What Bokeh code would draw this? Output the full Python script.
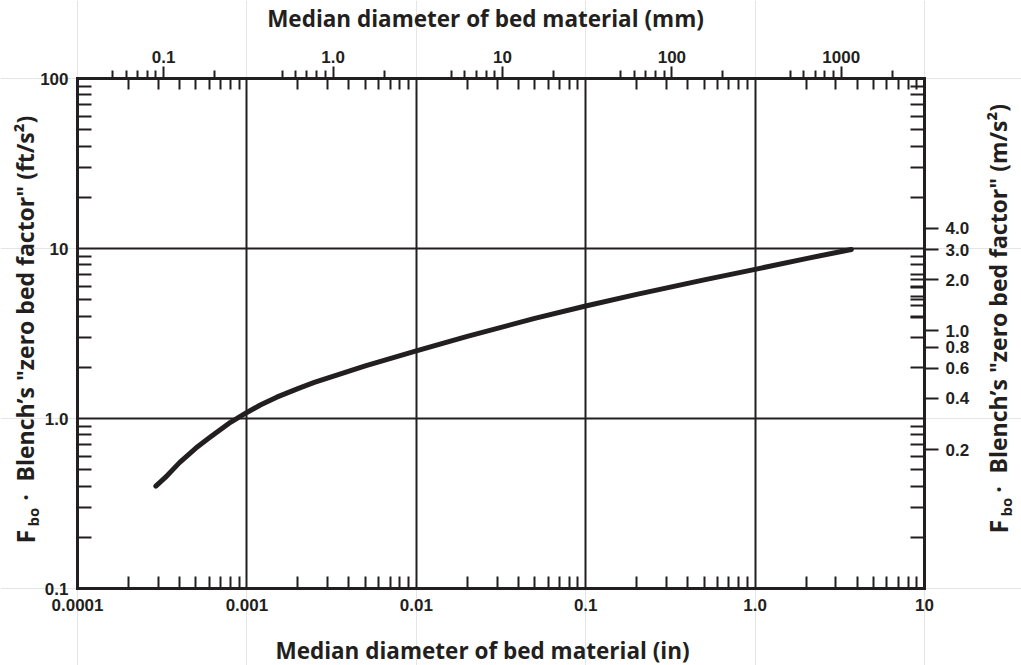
import numpy as np
from bokeh.plotting import figure
from bokeh.models import LogAxis, FixedTicker, Range1d, LogScale, Label
from bokeh.embed import file_html
from bokeh.resources import INLINE

# ---- data ----
diam_in = [0.00029, 0.00033, 0.0004, 0.0005, 0.0006, 0.0008, 0.001, 0.0012,
           0.0015, 0.002, 0.0025, 0.0035, 0.005, 0.01, 0.02, 0.05, 0.1, 0.2,
           0.5, 1.0, 2.0, 3.7]
fbo_ft = [0.40, 0.45, 0.55, 0.67, 0.77, 0.95, 1.085, 1.20,
          1.335, 1.50, 1.63, 1.82, 2.04, 2.50, 3.04, 3.88, 4.59, 5.37,
          6.54, 7.54, 8.72, 9.86]

in_ticks = [0.0001, 0.001, 0.01, 0.1, 1.0, 10.0]
in_labels = ["0.0001", "0.001", "0.01", "0.1", "1.0", "10"]
ft_ticks = [0.1, 1.0, 10.0, 100.0]
ft_labels = ["0.1", "1.0", "10", "100"]
mm_ticks = [0.1, 1.0, 10.0, 100.0, 1000.0]
mm_labels = ["0.1", "1.0", "10", "100", "1000"]
ms_ticks = [0.2, 0.4, 0.6, 0.8, 1.0, 2.0, 3.0, 4.0]
ms_labels = ["0.2", "0.4", "0.6", "0.8", "1.0", "2.0", "3.0", "4.0"]
ms_inner_ticks = [1.2, 1.4, 1.6, 1.8, 2.0]

IN_LO, IN_HI = 1e-4, 10.0        # x extent of the chart (inches)
FT_LO, FT_HI = 0.1, 100.0        # y extent of the chart (ft/s2)
MM_PER_IN = 310.0                # scale factor of the top axis as drawn
MS_PER_FT = 0.3048

INK = "#231f20"
TICK_FONT = "Liberation Sans"
TITLE_FONT = "Open Sans"

# ---- geometry (pixels) ----
W, H = 1021, 665
PL, PR, PT, PB = 77, 924, 78, 588

dx = (np.log10(IN_HI) - np.log10(IN_LO)) / (PR - PL)
dy = (np.log10(FT_HI) - np.log10(FT_LO)) / (PB - PT)
x0 = 10 ** (np.log10(IN_LO) - PL * dx)
x1 = 10 ** (np.log10(IN_HI) + (W - PR) * dx)
y0 = 10 ** (np.log10(FT_LO) - (H - PB) * dy)
y1 = 10 ** (np.log10(FT_HI) + PT * dy)


def minors(mults, lo, hi):
    out = []
    for k in range(-6, 5):
        for m in mults:
            v = m * 10.0 ** k
            if lo < v < hi:
                out.append(v)
    return out


in_minor = minors(range(2, 10), IN_LO, IN_HI)
ft_minor = minors(range(2, 10), FT_LO, FT_HI)
mm_minor = minors([2, 5, 6, 7, 8, 9], IN_LO * MM_PER_IN, IN_HI * MM_PER_IN)

p = figure(width=W, height=H, min_border=0,
           x_axis_type="log", y_axis_type="log",
           x_range=Range1d(x0, x1), y_range=Range1d(y0, y1),
           x_axis_location=None, y_axis_location=None,
           output_backend="svg", toolbar_location=None,
           background_fill_color="white", border_fill_color="white")
p.x_scale = LogScale()
p.y_scale = LogScale()
p.outline_line_color = None
p.extra_x_ranges = {"mm": Range1d(x0 * MM_PER_IN, x1 * MM_PER_IN)}
p.extra_x_scales = {"mm": LogScale()}
p.extra_y_ranges = {"ms": Range1d(y0 * MS_PER_FT, y1 * MS_PER_FT)}
p.extra_y_scales = {"ms": LogScale()}


def style(ax, line=True):
    ax.axis_line_color = INK if line else None
    ax.axis_line_width = 3
    ax.axis_line_cap = "square"
    ax.major_tick_line_color = INK
    ax.minor_tick_line_color = INK
    ax.major_tick_line_width = 2
    ax.minor_tick_line_width = 2
    ax.major_tick_in = 0
    ax.major_tick_out = 0
    ax.minor_tick_in = 0
    ax.minor_tick_out = 0
    ax.major_label_text_font = TICK_FONT
    ax.major_label_text_font_style = "bold"
    ax.major_label_text_font_size = "17px"
    ax.major_label_text_color = INK


# bottom axis (inches) - its long major ticks form the vertical grid
bx = LogAxis(fixed_location=FT_LO, bounds=(IN_LO, IN_HI),
             ticker=FixedTicker(ticks=in_ticks, minor_ticks=in_minor),
             major_label_overrides=dict(zip(in_ticks, in_labels)))
style(bx)
bx.major_tick_in = PB - PT
bx.minor_tick_in = 12
bx.major_label_standoff = 10
p.add_layout(bx, "below")

# left axis (ft/s2) - its long major ticks form the horizontal grid
ly = LogAxis(fixed_location=IN_LO, bounds=(FT_LO, FT_HI),
             ticker=FixedTicker(ticks=ft_ticks, minor_ticks=ft_minor),
             major_label_overrides=dict(zip(ft_ticks, ft_labels)))
style(ly)
ly.major_tick_in = PR - PL
ly.minor_tick_in = 14
ly.major_label_standoff = 9
p.add_layout(ly, "left")

# top: inch minor ticks pointing in
tx_in = LogAxis(fixed_location=FT_HI, bounds=(IN_LO, IN_HI),
                ticker=FixedTicker(ticks=[], minor_ticks=in_minor))
style(tx_in)
tx_in.minor_tick_in = 11
p.add_layout(tx_in, "above")

# top: mm scale pointing out
tx_mm = LogAxis(x_range_name="mm", fixed_location=FT_HI,
                bounds=(IN_LO * MM_PER_IN, IN_HI * MM_PER_IN),
                ticker=FixedTicker(ticks=mm_ticks, minor_ticks=mm_minor),
                major_label_overrides=dict(zip(mm_ticks, mm_labels)))
style(tx_mm, line=False)
tx_mm.major_tick_out = 12
tx_mm.minor_tick_out = 8
tx_mm.major_label_standoff = 4
p.add_layout(tx_mm, "above")

# right: ft minor ticks pointing in
ry_in = LogAxis(fixed_location=IN_HI, bounds=(FT_LO, FT_HI),
                ticker=FixedTicker(ticks=[], minor_ticks=ft_minor))
style(ry_in)
ry_in.minor_tick_in = 14
p.add_layout(ry_in, "right")

# right: m/s2 scale, labelled ticks out, a few unlabelled ticks in
ry_ms = LogAxis(y_range_name="ms", fixed_location=IN_HI,
                bounds=(FT_LO * MS_PER_FT, FT_HI * MS_PER_FT),
                ticker=FixedTicker(ticks=ms_ticks, minor_ticks=ms_inner_ticks),
                major_label_overrides=dict(zip(ms_ticks, ms_labels)))
style(ry_ms, line=False)
ry_ms.major_tick_out = 14
ry_ms.minor_tick_in = 14
ry_ms.major_label_standoff = 7
p.add_layout(ry_ms, "right")

# curve
p.line(diam_in, fbo_ft, line_color=INK, line_width=5, line_cap="round",
       line_join="round")


def lab(x, y, text, size, angle=0.0, align="left"):
    p.add_layout(Label(x=x, y=y, x_units="screen", y_units="screen",
                       text=text, angle=angle, text_align=align,
                       text_baseline="middle", text_font=TITLE_FONT,
                       text_font_style="bold", text_font_size=size,
                       text_color=INK))


lab(485, H - 18, "Median diameter of bed material (mm)", "22.5px", align="center")
lab(482, H - 650, "Median diameter of bed material (in)", "22.5px", align="center")

A = np.pi / 2
# left title
lab(24, H - 543, "F", "25px", A)
lab(32, H - 526, "bo", "15px", A)
lab(24, H - 497, "\u00b7", "23px", A, align="center")
lab(24, H - 481, "Blench\u2019s \"zero bed factor\" (ft/s\u00b2)", "23px", A)
# right title
lab(997, H - 533, "F", "25px", A)
lab(1005, H - 516, "bo", "15px", A)
lab(997, H - 489, "\u00b7", "23px", A, align="center")
lab(997, H - 473, "Blench\u2019s \"zero bed factor\" (m/s\u00b2)", "23px", A)

open("out.html", "w").write(file_html(p, INLINE))
